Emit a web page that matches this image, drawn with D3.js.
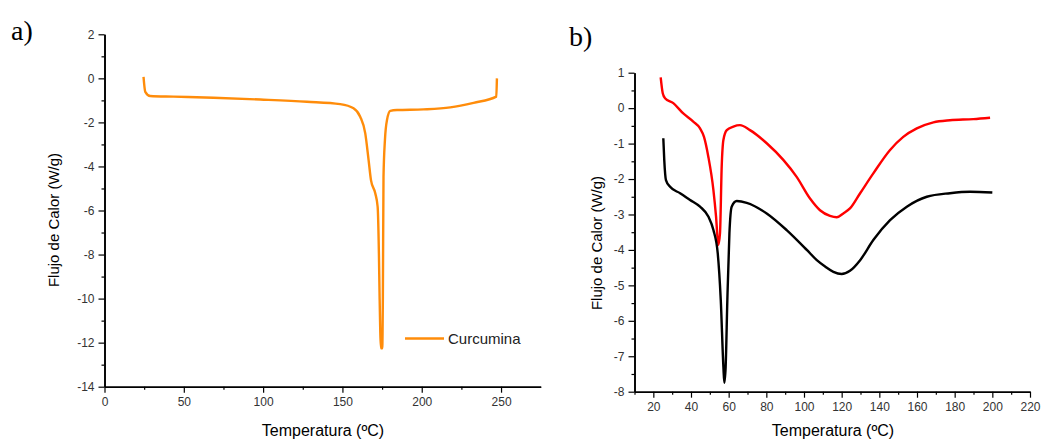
<!DOCTYPE html>
<html>
<head>
<meta charset="utf-8">
<script src="https://cdn.jsdelivr.net/npm/d3@7"></script>
<style>
body { margin: 0; background: #fff; }
svg text { font-family: "Liberation Sans", Arial, sans-serif; }
.tick text { fill: #333; font-size: 12px; }
.panel { font-family: "Liberation Serif", "Times New Roman", serif !important; font-size: 28px; fill: #000; }
</style>
</head>
<body>
<script>
var Width = 1041;
var Height = 440;

// panel a) curcumina
var curcTemp = [24.6, 25.7, 28.8, 43.5, 68.7, 98.2, 127.6, 148.6, 157, 161.2, 164.4, 166.5, 168, 170.7, 172.2, 173.0, 173.4, 174.3,
	175.1, 175.5, 175.9, 176.8, 178.1, 180.2, 184.4, 201.1, 218, 232.7, 247, 247.4];
var curcFlow = [0.07, -0.61, -0.80, -0.83, -0.88, -0.96, -1.06, -1.17, -1.36, -1.74, -2.50, -3.71, -4.62, -5.22, -5.83, -7.95, -9.76, -12.26,
	-12.26, -9.92, -4.47, -2.80, -1.89, -1.48, -1.44, -1.41, -1.32, -1.11, -0.83, 0.0];
var aXTicks = [0, 50, 100, 150, 200, 250];
var aYTicks = [2, 0, -2, -4, -6, -8, -10, -12, -14];

// panel b) two samples
var redTemp = [23.9, 25.0, 26.2, 30.6, 35.9, 41.2, 44.8, 46.9, 49.2, 51.9, 53.3, 54.5, 55.4, 56.3, 57.2, 59.0, 62.5, 66.0, 71.3, 80.2,
	89.0, 96.1, 103.2, 108.5, 113.8, 117.4, 120.9, 124.4, 129.8, 136.8, 145.7, 152.7, 159.9, 168.7, 177.5, 189.9, 198.8];
var redFlow = [0.87, 0.42, 0.28, 0.14, -0.15, -0.38, -0.57, -0.81, -1.37, -2.31, -3.06, -3.86, -3.53, -1.65, -0.90, -0.62, -0.52, -0.48, -0.62, -0.99,
	-1.46, -1.94, -2.55, -2.88, -3.04, -3.08, -2.97, -2.83, -2.40, -1.84, -1.18, -0.81, -0.57, -0.40, -0.34, -0.31, -0.27];
var blackTemp = [25.3, 25.8, 26.7, 28.9, 34.2, 39.5, 44.8, 49.2, 51.9, 54.2, 55.8, 57.2, 57.7, 58.4, 59.3, 60.4, 61.6, 64.3, 69.6, 80.2,
	90.8, 101.5, 106.8, 111.2, 115.6, 120.0, 124.4, 129.8, 136.8, 145.7, 154.6, 165.2, 177.5, 188.2, 200];
var blackFlow = [-0.85, -1.46, -2.03, -2.22, -2.40, -2.59, -2.78, -3.06, -3.44, -4.10, -5.41, -7.30, -7.75, -7.30, -5.41, -3.53, -2.78, -2.62, -2.67, -2.97,
	-3.44, -4.00, -4.29, -4.47, -4.62, -4.68, -4.59, -4.29, -3.72, -3.16, -2.78, -2.50, -2.40, -2.36, -2.38];
var bXTicks = [20, 40, 60, 80, 100, 120, 140, 160, 180, 200, 220];
var bYTicks = [1, 0, -1, -2, -3, -4, -5, -6, -7, -8];

var svg = d3.select("body").append("svg")
	.attr("width", Width)
	.attr("height", Height);

function zip(xs, ys) {
	return xs.map(function (x, i) { return [x, ys[i]]; });
}

function drawAxes(x, y, xTicks, xMinor, yTicks, yMinor) {
	var x0 = x.range()[0];
	var y0 = y.range()[0];

	var g = svg.append("g");

	// minor ticks first, no labels
	g.append("g")
		.attr("transform", "translate(0," + y0 + ")")
		.call(d3.axisBottom(x).tickValues(xMinor).tickSize(3).tickSizeOuter(0).tickFormat(""));
	g.append("g")
		.attr("transform", "translate(" + x0 + ",0)")
		.call(d3.axisLeft(y).tickValues(yMinor).tickSize(3).tickSizeOuter(0).tickFormat(""));

	g.append("g")
		.attr("transform", "translate(0," + y0 + ")")
		.call(d3.axisBottom(x).tickValues(xTicks).tickSize(6).tickSizeOuter(0).tickPadding(5));
	g.append("g")
		.attr("transform", "translate(" + x0 + ",0)")
		.call(d3.axisLeft(y).tickValues(yTicks).tickSize(6).tickSizeOuter(0).tickPadding(4)
			.tickFormat(function (d) { return String(d); }));

	g.selectAll(".domain").attr("stroke", "#000").attr("stroke-width", 1.6);
	g.selectAll(".tick line").attr("stroke", "#000").attr("stroke-width", 1.2);
}

function drawLine(x, y, data, color) {
	svg.append("path")
		.datum(data)
		.attr("fill", "none")
		.attr("stroke", color)
		.attr("stroke-width", 2.4)
		.attr("stroke-linejoin", "round")
		.attr("d", d3.line()
			.x(function (d) { return x(d[0]); })
			.y(function (d) { return y(d[1]); })
			.curve(d3.curveMonotoneX));
}

function drawLabels(cx, cy, xLabelX, xLabelY) {
	svg.append("text")
		.attr("transform", "translate(" + cx + "," + cy + ") rotate(-90)")
		.attr("text-anchor", "middle")
		.attr("font-size", 15)
		.text("Flujo de Calor (W/g)");
	svg.append("text")
		.attr("x", xLabelX)
		.attr("y", xLabelY)
		.attr("text-anchor", "middle")
		.attr("font-size", 16)
		.text("Temperatura (ºC)");
}

// ---- panel a
var xa = d3.scaleLinear().domain([0, 275]).range([104.5, 540.7]);
var ya = d3.scaleLinear().domain([-14, 2]).range([386.7, 34.3]);

drawAxes(xa, ya, aXTicks, d3.range(25, 275, 50), aYTicks, d3.range(-13, 2, 2));
drawLine(xa, ya, zip(curcTemp, curcFlow), "#ff8c0a");
drawLabels(59, 220, 323, 436);

svg.append("text").attr("class", "panel").attr("x", 11).attr("y", 40).text("a)");

// legend
svg.append("line")
	.attr("x1", 405).attr("x2", 444)
	.attr("y1", 338.5).attr("y2", 338.5)
	.attr("stroke", "#ff8c0a").attr("stroke-width", 2.4);
svg.append("text")
	.attr("x", 448).attr("y", 344)
	.attr("font-size", 15)
	.attr("fill", "#222")
	.text("Curcumina");

// ---- panel b
var xb = d3.scaleLinear().domain([10, 220]).range([634.5, 1030]);
var yb = d3.scaleLinear().domain([-8, 1]).range([391.7, 72.7]);

drawAxes(xb, yb, bXTicks, d3.range(10, 220, 20), bYTicks, d3.range(-7.5, 1, 1));
drawLine(xb, yb, zip(redTemp, redFlow), "#ff0000");
drawLine(xb, yb, zip(blackTemp, blackFlow), "#000000");
drawLabels(602, 243, 833, 436);

svg.append("text").attr("class", "panel").attr("x", 569).attr("y", 46).text("b)");
</script>
</body>
</html>
